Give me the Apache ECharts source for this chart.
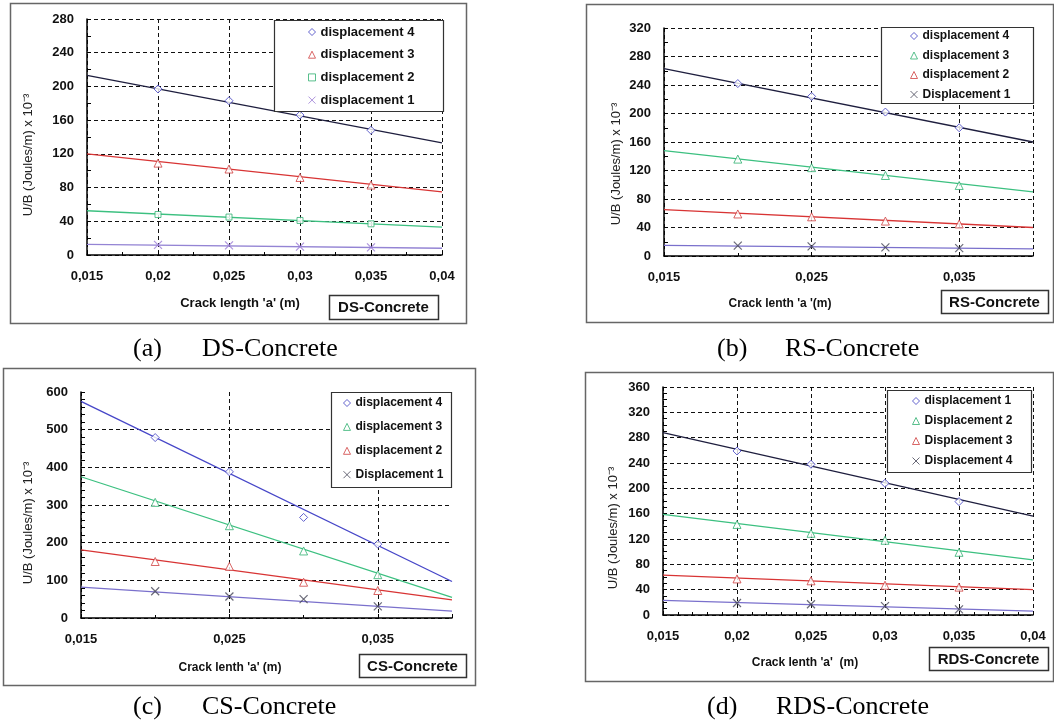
<!DOCTYPE html>
<html><head><meta charset="utf-8">
<script src="https://cdn.jsdelivr.net/npm/echarts@6/dist/echarts.min.js"></script>
<style>html,body{margin:0;padding:0;background:#fff}#c{width:1054px;height:726px}</style>
</head><body><div id="c"></div>
<script>
// ---------- shared x positions ----------
const xPoints = [0.02, 0.025, 0.03, 0.035];
const xFit = [0.015, 0.04];

// ---------- (a) DS-Concrete ----------
const dsNames = ['displacement 4', 'displacement 3', 'displacement 2', 'displacement 1'];
const dsPts = [[197, 183, 166, 148], [109, 102, 92, 83], [48, 45, 41, 37], [12, 11.5, 10, 9]];
const dsFit = [[213, 133], [120, 75], [52.5, 33], [12.6, 8]];
const dsXTicks = ['0,015', '0,02', '0,025', '0,03', '0,035', '0,04'];
const dsYTicks = ['0', '40', '80', '120', '160', '200', '240', '280'];

// ---------- (b) RS-Concrete ----------
const rsNames = ['displacement 4', 'displacement 3', 'displacement 2', 'Displacement 1'];
const rsPts = [[242, 224, 202, 180], [136, 124, 113, 99], [59, 55, 49, 45], [14.5, 13.6, 12, 11]];
const rsFit = [[263, 160], [148, 90], [65, 40], [15, 10]];
const rsXTicks = ['0,015', '0,025', '0,035', ''];
const rsYTicks = ['0', '40', '80', '120', '160', '200', '240', '280', '320'];

// ---------- (c) CS-Concrete ----------
const csNames = ['displacement 4', 'displacement 3', 'displacement 2', 'Displacement 1'];
const csPts = [[479, 388, 267, 196], [307, 245, 178, 115], [150, 137, 95, 73], [71, 57, 50, 31]];
const csFit = [[575, 97], [375, 55], [181, 48], [82, 18]];
const csXTicks = ['0,015', '0,025', '0,035', ''];
const csYTicks = ['0', '100', '200', '300', '400', '500', '600'];

// ---------- (d) RDS-Concrete ----------
const rdsNames = ['displacement 1', 'Displacement 2', 'Displacement 3', 'Displacement 4'];
const rdsPts = [[259, 238, 208, 179], [143, 129, 118, 99], [57, 54, 47, 44], [19, 17, 14, 9]];
const rdsFit = [[288, 156], [159, 87], [63, 40], [23, 6]];
const rdsXTicks = ['0,015', '0,02', '0,025', '0,03', '0,035', '0,04'];
const rdsYTicks = ['0', '40', '80', '120', '160', '200', '240', '280', '320', '360'];

// ---------- text ----------
const yTitle = 'U/B (Joules/m) x 10\u207B\u00B3';
const xTitles = ["Crack length 'a' (m)", "Crack lenth 'a '(m)", "Crack lenth 'a' (m)", "Crack lenth 'a'  (m)"];
const boxLabels = ['DS-Concrete', 'RS-Concrete', 'CS-Concrete', 'RDS-Concrete'];
const captionTags = ['(a)', '(b)', '(c)', '(d)'];

// ---------- styles ----------
const SANS = "'Liberation Sans', Arial, sans-serif";
const SERIF = "'Liberation Serif', 'Times New Roman', serif";
const CROSS = 'path://M0,0L10,10M10,0L0,10';
const mk = {
  diamond: c => ({symbol: 'diamond', size: 8, style: {color: '#fff', borderColor: c, borderWidth: 1}}),
  tri: c => ({symbol: 'triangle', size: 8, style: {color: '#fff', borderColor: c, borderWidth: 1}}),
  square: c => ({symbol: 'rect', size: 6, style: {color: '#fff', borderColor: c, borderWidth: 1}}),
  cross: c => ({symbol: CROSS, size: 8, style: {color: 'rgba(0,0,0,0)', borderColor: c, borderWidth: 1.2}})
};
const BLUE = '#3c3cc0', RED = '#d04040', GREEN = '#2fb070', PURPLE = '#9a7ad4';

const panels = [
  {key: 'a', names: dsNames, pts: dsPts, fit: dsFit, xt: dsXTicks, yt: dsYTicks, ymax: 280, yint: 40, xint: 0.005,
   yMinor: 2, xMinor: 2, maxLine: true,
   grid: {left: 87, top: 19, width: 355, height: 236},
   marks: [mk.diamond(BLUE), mk.tri(RED), mk.square(GREEN), mk.cross(PURPLE)],
   lines: ['#1e1e3e', '#d83434', '#3cc080', '#9484d4'],
   legend: {left: 308, top: 25, itemGap: 8.7, fontSize: 13}},
  {key: 'b', names: rsNames, pts: rsPts, fit: rsFit, xt: rsXTicks, yt: rsYTicks, ymax: 320, yint: 40, xint: 0.01,
   yMinor: 2, xMinor: 2, maxLine: true,
   grid: {left: 664, top: 28, width: 369, height: 228},
   marks: [mk.diamond(BLUE), mk.tri(GREEN), mk.tri(RED), mk.cross('#444455')],
   lines: ['#1e1e3e', '#3cc080', '#d83434', '#7a70cc'],
   legend: {left: 910, top: 29, itemGap: 5.5, fontSize: 12}},
  {key: 'c', names: csNames, pts: csPts, fit: csFit, xt: csXTicks, yt: csYTicks, ymax: 600, yint: 100, xint: 0.01,
   yMinor: 5, xMinor: 2, maxLine: false,
   grid: {left: 81, top: 392, width: 371, height: 226},
   marks: [mk.diamond(BLUE), mk.tri(GREEN), mk.tri(RED), mk.cross('#444455')],
   lines: ['#4646c8', '#3cc080', '#d83434', '#7a70cc'],
   legend: {left: 343, top: 396, itemGap: 9.9, fontSize: 12}},
  {key: 'd', names: rdsNames, pts: rdsPts, fit: rdsFit, xt: rdsXTicks, yt: rdsYTicks, ymax: 360, yint: 40, xint: 0.005,
   yMinor: 4, xMinor: 5, maxLine: true,
   grid: {left: 663, top: 387, width: 370, height: 228},
   marks: [mk.diamond(BLUE), mk.tri(GREEN), mk.tri(RED), mk.cross('#444455')],
   lines: ['#1e1e3e', '#3cc080', '#d83434', '#7a70cc'],
   legend: {left: 912, top: 394, itemGap: 6, fontSize: 12}}
];

const grids = [], xAxes = [], yAxes = [], series = [], legends = [];
panels.forEach((p, k) => {
  grids.push(Object.assign({containLabel: false, show: false}, p.grid));
  const axisLine = {show: true, onZero: false, lineStyle: {color: '#000', width: 1.5}};
  const split = {show: true, showMaxLine: p.maxLine, lineStyle: {color: '#111', type: [4, 3], width: 1}};
  const labelStyle = {fontFamily: SANS, fontWeight: 'bold', fontSize: 13, color: '#111'};
  xAxes.push({
    type: 'value', gridIndex: k, min: 0.015, max: 0.04, interval: p.xint,
    axisLine, splitLine: split,
    axisTick: {show: true, inside: true, length: 4, lineStyle: {color: '#000'}},
    minorTick: {show: true, splitNumber: p.xMinor, length: 3, lineStyle: {color: '#000'}},
    axisLabel: Object.assign({margin: 15, showMinLabel: true, showMaxLabel: true,
      formatter: (v, i) => (p.xt[i] !== undefined ? p.xt[i] : '')}, labelStyle)
  });
  yAxes.push({
    type: 'value', gridIndex: k, min: 0, max: p.ymax, interval: p.yint,
    axisLine, splitLine: split,
    axisTick: {show: true, inside: true, length: 4, lineStyle: {color: '#000'}},
    minorTick: {show: true, splitNumber: p.yMinor, length: 4, lineStyle: {color: '#000'}},
    axisLabel: Object.assign({margin: 13, formatter: (v, i) => (p.yt[i] !== undefined ? p.yt[i] : '')}, labelStyle)
  });
  const legendData = [];
  p.names.forEach((nm, j) => {
    const sname = p.key + '|' + nm;
    legendData.push(sname);
    series.push({
      name: p.key + '|fit' + j, type: 'line', xAxisIndex: k, yAxisIndex: k,
      data: xFit.map((x, i) => [x, p.fit[j][i]]),
      symbol: 'none', silent: true, z: 2,
      lineStyle: {color: p.lines[j], width: 1.3}
    });
    const m = p.marks[j];
    series.push({
      name: sname, type: 'scatter', xAxisIndex: k, yAxisIndex: k,
      data: xPoints.map((x, i) => [x, p.pts[j][i]]),
      symbol: m.symbol, symbolSize: m.size, z: 3, silent: true,
      itemStyle: m.style
    });
  });
  legends.push({
    data: legendData, orient: 'vertical', left: p.legend.left, top: p.legend.top,
    itemGap: p.legend.itemGap, itemWidth: 7, itemHeight: 7, selectedMode: false, z: 10,
    padding: 0, itemStyle: {borderWidth: 1},
    formatter: n => n.split('|')[1],
    textStyle: {fontFamily: SANS, fontWeight: 'bold', fontSize: p.legend.fontSize, color: '#111', lineHeight: 14}
  });
});

// ---------- decorations ----------
const frames = [[10, 3, 456, 320], [586, 4, 467, 318], [3, 368, 472, 317], [585, 372, 468, 309]];
const legendBoxes = [[274, 20, 169, 91], [881, 27, 152, 76], [331, 392, 120, 95], [887, 390, 144, 82]];
const labelBoxes = [[329, 295, 109, 24], [941, 290, 107, 23], [359, 654, 107, 23], [929, 647, 119, 23]];
const xTitlePos = [[240, 303, 13], [780, 304, 12], [230, 668, 12], [805, 663, 12]];
const yTitlePos = [[28, 155], [616, 164], [28, 523], [613, 528]];
const captionPos = [[133, 202, 349], [717, 785, 349], [133, 202, 707], [707, 776, 707]];

const graphic = [];
frames.forEach(f => graphic.push({type: 'rect', z: 0, silent: true,
  shape: {x: f[0] + 0.5, y: f[1] + 0.5, width: f[2], height: f[3]},
  style: {fill: 'none', stroke: '#666', lineWidth: 1.5}}));
legendBoxes.forEach(b => graphic.push({type: 'rect', z: 5, silent: true,
  shape: {x: b[0] + 0.5, y: b[1] + 0.5, width: b[2], height: b[3]},
  style: {fill: '#fff', stroke: '#333', lineWidth: 1.2}}));
labelBoxes.forEach((b, i) => {
  graphic.push({type: 'rect', z: 5, silent: true,
    shape: {x: b[0] + 0.5, y: b[1] + 0.5, width: b[2], height: b[3]},
    style: {fill: '#fff', stroke: '#333', lineWidth: 1.5}});
  graphic.push({type: 'text', z: 6, silent: true, x: b[0] + b[2] / 2, y: b[1] + b[3] / 2 + 1,
    style: {text: boxLabels[i], fontFamily: SANS, fontWeight: 'bold', fontSize: 15, fill: '#111',
      textAlign: 'center', textVerticalAlign: 'middle'}});
});
xTitlePos.forEach((t, i) => graphic.push({type: 'text', z: 6, silent: true, x: t[0], y: t[1],
  style: {text: xTitles[i], fontFamily: SANS, fontWeight: 'bold', fontSize: t[2], fill: '#111',
    textAlign: 'center', textVerticalAlign: 'middle'}}));
yTitlePos.forEach(t => graphic.push({type: 'text', z: 6, silent: true, x: t[0], y: t[1], rotation: Math.PI / 2,
  style: {text: yTitle, fontFamily: SANS, fontSize: 13, fill: '#222',
    textAlign: 'center', textVerticalAlign: 'middle'}}));
captionPos.forEach((c, i) => {
  graphic.push({type: 'text', z: 6, silent: true, x: c[0], y: c[2],
    style: {text: captionTags[i], fontFamily: SERIF, fontSize: 26, fill: '#000', textAlign: 'left', textVerticalAlign: 'middle'}});
  graphic.push({type: 'text', z: 6, silent: true, x: c[1], y: c[2],
    style: {text: boxLabels[i], fontFamily: SERIF, fontSize: 26, fill: '#000', textAlign: 'left', textVerticalAlign: 'middle'}});
});

const chart = echarts.init(document.getElementById('c'), null, {renderer: 'canvas'});
chart.setOption({
  backgroundColor: '#fff',
  animation: false,
  grid: grids, xAxis: xAxes, yAxis: yAxes, series, legend: legends, graphic
});
</script>
</body></html>
